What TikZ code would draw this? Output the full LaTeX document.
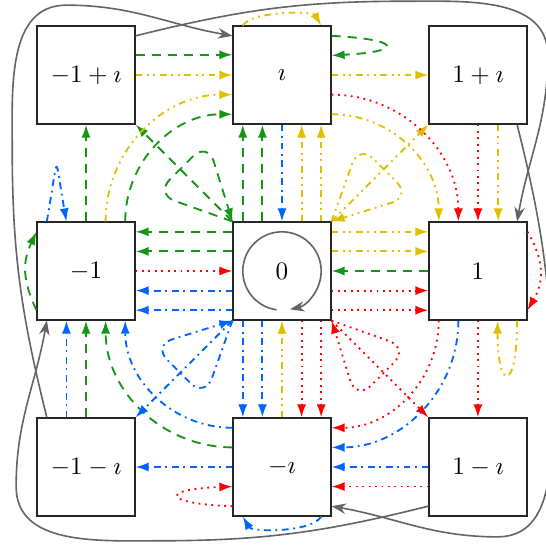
\documentclass[tikz,border=0pt]{standalone}
\usetikzlibrary{arrows.meta}
\definecolor{cg}{RGB}{20,150,20}
\definecolor{cy}{RGB}{225,190,0}
\definecolor{cr}{RGB}{255,0,0}
\definecolor{cb}{RGB}{0,100,255}
\definecolor{cgray}{RGB}{100,100,100}
\begin{document}
\begin{tikzpicture}[
  box/.style={draw=black!85, line width=0.5pt, minimum size=1.5cm, inner sep=0pt, font=\fontsize{11}{13}\selectfont},
  e/.style={line width=0.8pt, -{Latex[length=2mm,width=1.4mm]}},
  gr/.style={e, cg, dash pattern=on 4pt off 3pt},
  ye/.style={e, cy, dash pattern=on 3pt off 2pt on 0.8pt off 2pt on 0.8pt off 2pt},
  rd/.style={e, cr, dash pattern=on 0.8pt off 2pt},
  bl/.style={e, cb, dash pattern=on 3pt off 2pt on 0.8pt off 2pt},
  gy/.style={line width=0.7pt, cgray, -{Stealth[length=2.2mm,width=1.6mm]}},
  tri/.style={rounded corners=9pt},
]
\useasboundingbox (-4.317,-4.317) rectangle (4.041,4.149);
\node[box] (nm1p) at (-3,3) {$-1+\imath$};
\node[box] (ni) at (0,3) {$\imath$};
\node[box] (n1p) at (3,3) {$1+\imath$};
\node[box] (nm1) at (-3,0) {$-1$};
\node[box] (n0) at (0,0) {$0$};
\node[box] (n1) at (3,0) {$1$};
\node[box] (nm1m) at (-3,-3) {$-1-\imath$};
\node[box] (nmi) at (0,-3) {$-\imath$};
\node[box] (n1m) at (3,-3) {$1-\imath$};

% green
\draw[gr] ([yshift=3.1mm]nm1p.east) -- ([yshift=3.1mm]ni.west);
\draw[gr] ([yshift=6mm]ni.east) to[out=-3,in=3,min distance=1.1cm] ([yshift=3mm]ni.east);
\draw[gr] (nm1.north) -- (nm1p.south);
\draw[gr] ([xshift=6mm]nm1.north) to[out=90,in=180] ([yshift=-6mm]ni.west);
\draw[gr] (n0.north west) -- (nm1p.south east);
\draw[gr,tri] (n0.north west) -- ++(-1.18,0.42) -- ++(0.80,0.80) -- (n0.north west);
\draw[gr] ([yshift=6mm]n0.west) -- ([yshift=6mm]nm1.east);
\draw[gr] ([yshift=3mm]n0.west) -- ([yshift=3mm]nm1.east);
\draw[gr] ([xshift=-6mm]n0.north) -- ([xshift=-6mm]ni.south);
\draw[gr] ([xshift=-3mm]n0.north) -- ([xshift=-3mm]ni.south);
\draw[gr] (n1.west) -- (n0.east);
\draw[gr] ([yshift=-6mm]nm1.west) to[out=115,in=245,looseness=1.1] ([yshift=6mm]nm1.west);
\draw[gr] (nm1m.north) -- (nm1.south);
\draw[gr] ([yshift=3mm]nmi.west) to[out=180,in=-90] ([xshift=3mm]nm1.south);

% yellow
\draw[ye] (nm1p.east) -- (ni.west);
\draw[ye] ([xshift=3mm]nm1.north) to[out=90,in=180] ([yshift=-3mm]ni.west);
\draw[ye] (ni.east) -- (n1p.west);
\draw[ye] ([xshift=-6mm]ni.north) to[out=60,in=120,looseness=0.55] ([xshift=6mm]ni.north);
\draw[ye] ([yshift=-6mm]ni.east) to[out=0,in=90] ([xshift=-6mm]n1.north);
\draw[ye] ([xshift=3mm]n0.north) -- ([xshift=3mm]ni.south);
\draw[ye] ([xshift=6mm]n0.north) -- ([xshift=6mm]ni.south);
\draw[ye,tri] (n0.north east) -- ++(0.42,1.18) -- ++(0.80,-0.80) -- (n0.north east);
\draw[ye] (n0.north east) -- (n1p.south west);
\draw[ye] ([yshift=6mm]n0.east) -- ([yshift=6mm]n1.west);
\draw[ye] ([yshift=3mm]n0.east) -- ([yshift=3mm]n1.west);
\draw[ye] ([xshift=3.1mm]n1p.south) -- ([xshift=3.1mm]n1.north);
\draw[ye] ([xshift=6mm]n1.south) to[out=-90,in=-90,min distance=1.1cm] ([xshift=3mm]n1.south);
\draw[ye] (nmi.north) -- (n0.south);

% red
\draw[rd] (nm1.east) -- (n0.west);
\draw[rd] ([yshift=-3mm]ni.east) to[out=0,in=90] ([xshift=-3mm]n1.north);
\draw[rd] (n1p.south) -- (n1.north);
\draw[rd] ([yshift=6mm]n1.east) to[out=-60,in=60,looseness=1.1] ([yshift=-6mm]n1.east);
\draw[rd] ([yshift=-3mm]n0.east) -- ([yshift=-3mm]n1.west);
\draw[rd] ([yshift=-6mm]n0.east) -- ([yshift=-6mm]n1.west);
\draw[rd] ([xshift=3mm]n0.south) -- ([xshift=3mm]nmi.north);
\draw[rd] ([xshift=6mm]n0.south) -- ([xshift=6mm]nmi.north);
\draw[rd,tri] (n0.south east) -- ++(1.18,-0.42) -- ++(-0.80,-0.80) -- (n0.south east);
\draw[rd] (n0.south east) -- (n1m.north west);
\draw[rd] ([xshift=-6mm]n1.south) to[out=-90,in=0] ([yshift=6mm]nmi.east);
\draw[rd] (n1.south) -- (n1m.north);
\draw[rd] ([yshift=-3mm]n1m.west) -- ([yshift=-3mm]nmi.east);
\draw[rd] ([yshift=-6mm]nmi.west) to[out=178,in=182,min distance=1.1cm] ([yshift=-3mm]nmi.west);

% blue
\draw[bl] ([xshift=-6mm]nm1.north) to[out=80,in=100,min distance=1.1cm] ([xshift=-3mm]nm1.north);
\draw[bl] (ni.south) -- (n0.north);
\draw[bl] ([yshift=-3mm]n0.west) -- ([yshift=-3mm]nm1.east);
\draw[bl] ([yshift=-6mm]n0.west) -- ([yshift=-6mm]nm1.east);
\draw[bl,tri] (n0.south west) -- ++(-0.42,-1.18) -- ++(-0.80,0.80) -- (n0.south west);
\draw[bl] (n0.south west) -- (nm1m.north east);
\draw[bl] ([xshift=-6mm]n0.south) -- ([xshift=-6mm]nmi.north);
\draw[bl] ([xshift=-3mm]n0.south) -- ([xshift=-3mm]nmi.north);
\draw[bl] ([xshift=-3mm]nm1m.north) -- ([xshift=-3mm]nm1.south);
\draw[bl] ([yshift=6mm]nmi.west) to[out=180,in=-90] ([xshift=6mm]nm1.south);
\draw[bl] (nmi.west) -- (nm1m.east);
\draw[bl] (n1m.west) -- (nmi.east);
\draw[bl] ([xshift=-3mm]n1.south) to[out=-90,in=0] ([yshift=3mm]nmi.east);
\draw[bl] ([xshift=6mm]nmi.south) to[out=-120,in=-60,looseness=0.6] ([xshift=-6mm]nmi.south);

% gray
\draw[gy] ([yshift=6mm]nm1p.east) to[out=14,in=180] (1.9,4.13) to[out=0,in=90] (4.07,3.3) to[out=-90,in=80] ([xshift=6mm]n1.north);
\draw[gy] ([xshift=6mm]n1p.south) to[out=-76,in=90] (4.13,-1.9) to[out=-90,in=0] (3.3,-4.07) to[out=180,in=-10] ([yshift=-6mm]nmi.east);
\draw[gy] ([yshift=-6mm]n1m.west) to[out=194,in=0] (-1.9,-4.13) to[out=180,in=-90] (-4.07,-3.3) to[out=90,in=260] ([xshift=-6mm]nm1.south);
\draw[gy] ([xshift=-6mm]nm1m.north) to[out=104,in=-90] (-4.13,1.9) to[out=90,in=180] (-3.3,4.07) to[out=0,in=170] ([yshift=6mm]ni.west);
\draw[gy] ([shift={(-98:0.6)}]n0.center) arc[start angle=-98,end angle=-438,radius=0.6];
\end{tikzpicture}
\end{document}
